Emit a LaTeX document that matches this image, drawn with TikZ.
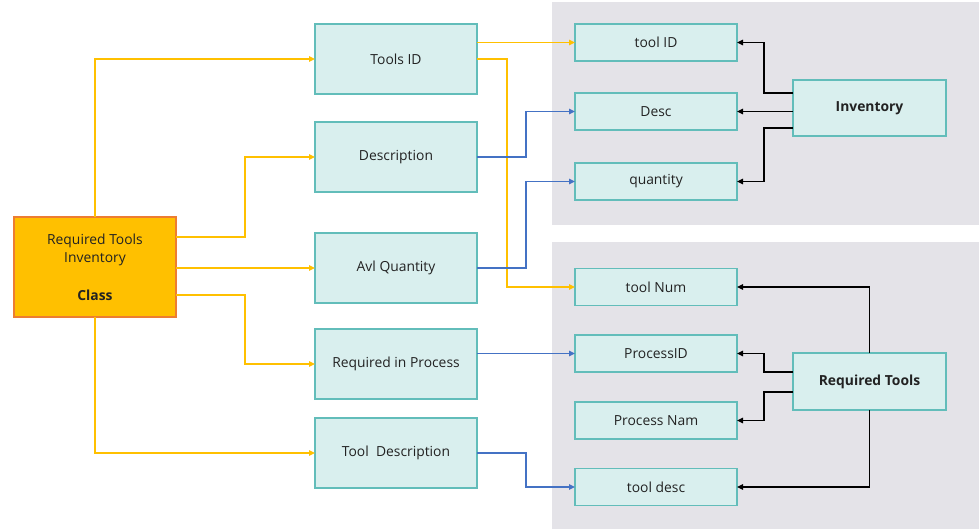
\documentclass[tikz,border=0pt]{standalone}
\usepackage{fontspec}
\setmainfont{Open Sans}
\usepackage{xcolor}
\usepackage{tikz}
\usetikzlibrary{arrows.meta,positioning}
\definecolor{panel}{RGB}{228,227,232}
\definecolor{boxfill}{RGB}{217,239,238}
\definecolor{boxline}{RGB}{98,189,186}
\definecolor{clsfill}{RGB}{255,192,0}
\definecolor{clsline}{RGB}{237,125,49}
\definecolor{yline}{RGB}{255,192,0}
\definecolor{bline}{RGB}{68,114,196}
\definecolor{txt}{RGB}{34,34,34}

\begin{document}
\begin{tikzpicture}[x=0.75pt,y=-0.75pt,>={Triangle[length=4.5pt,width=4pt]},
  font=\fontsize{10.4}{13.5}\selectfont,
  field/.style={draw=boxline,fill=boxfill,line width=1.2pt,inner sep=0pt,outer sep=0pt,
    minimum width=121.5pt,text=txt},
  big/.style={field,minimum height=52.5pt},
  small/.style={field,minimum height=27.75pt},
  table/.style={field,minimum width=114.75pt,minimum height=42pt,font=\fontsize{10.4}{13.5}\selectfont\bfseries},
  yarr/.style={->,yline,line width=1.1pt},
  barr/.style={->,bline,line width=1.1pt},
  karr/.style={->,black,line width=1.1pt}]
\useasboundingbox(0,0)rectangle(980,531);
\fill[panel](552,2)rectangle(979,225);
\fill[panel](552,242)rectangle(979,529);
% class
\node[draw=clsline,fill=clsfill,line width=1.2pt,inner sep=0pt,outer sep=0pt,
  minimum width=121.5pt,minimum height=75pt,align=center,text=txt](cls)at(95,267)
  {Required Tools\\Inventory\\[15pt]\textbf{Class}};
% attributes
\node[big](tid)at(396,59){Tools ID};
\node[big](desc)at(396,157){Description};
\node[big](avl)at(396,268){Avl Quantity};
\node[big](rip)at(396,364){Required in Process};
\node[big](tdesc)at(396,453){Tool\ \ Description};
% inventory table
\node[small](tida)at(656,42.5){tool ID};
\node[small](dsc)at(656,111.5){Desc};
\node[small](qty)at(656,181.5){quantity};
\node[table](inv)at(869.5,108){Inventory};
% required tools table
\node[small](tnum)at(656,287){tool Num};
\node[small](pid)at(656,353.5){ProcessID};
\node[small](pnam)at(656,420.5){Process Nam};
\node[small](tdsc)at(656,487){tool desc};
\node[table,minimum height=42.75pt](rt)at(869.5,381.5){Required Tools};
% yellow
\draw[yarr](cls.north)|-(tid.west);
\draw[yarr](cls.east|-0,237)--++(69,0)|-(desc.west);
\draw[yarr](cls.east|-avl.west)--(avl.west);
\draw[yarr](cls.east|-0,295)--++(69,0)|-(rip.west);
\draw[yarr](cls.south)|-(tdesc.west);
\draw[yarr](tid.east|-tida.west)--(tida.west);
\draw[yarr](tid.east)-|(507,287)--(tnum.west);
% blue
\draw[barr](desc.east)--++(49,0)|-(dsc.west);
\draw[barr](avl.east)--++(49,0)|-(qty.west);
\draw[barr](rip.east|-pid.west)--(pid.west);
\draw[barr](tdesc.east)--++(49,0)|-(tdsc.west);
% black
\draw[karr](inv.west|-0,93)--++(-29,0)|-(tida.east);
\draw[karr](inv.west|-dsc.east)--(dsc.east);
\draw[karr](inv.west|-0,128)--++(-29,0)|-(qty.east);
\draw[karr](rt.north)|-(tnum.east);
\draw[karr](rt.west|-0,372)--++(-29,0)|-(pid.east);
\draw[karr](rt.west|-0,392)--++(-29,0)|-(pnam.east);
\draw[karr](rt.south)|-(tdsc.east);
\end{tikzpicture}
\end{document}
